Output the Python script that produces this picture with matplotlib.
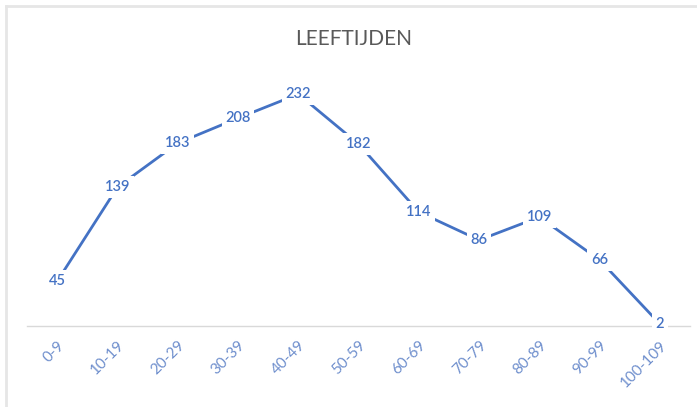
import matplotlib
matplotlib.use("Agg")
import matplotlib.pyplot as plt
from matplotlib.lines import Line2D

categories = ["0-9", "10-19", "20-29", "30-39", "40-49", "50-59",
              "60-69", "70-79", "80-89", "90-99", "100-109"]
values = [45, 139, 183, 208, 232, 182, 114, 86, 109, 66, 2]
title = "LEEFTIJDEN"

plt.rcParams['font.family'] = ['Lato', 'DejaVu Sans']

fig = plt.figure(figsize=(6.97, 4.07), dpi=100)
ax = fig.add_axes([0.039, 0.199, 0.951, 0.614])

x = list(range(len(categories)))
line_color = "#4472C4"
ax.plot(x, values, color=line_color, lw=2.0, solid_capstyle='round', zorder=2)
for xi, v in zip(x, values):
    ax.text(xi, v, str(v), ha='center', va='center', fontsize=10.5,
            color=line_color, fontweight='semibold', zorder=3,
            bbox=dict(boxstyle='square,pad=0.25', fc='white', ec='none'))

ax.set_xlim(-0.5, len(categories) - 0.5)
ax.set_ylim(0, 250)
ax.set_yticks([])
ax.set_xticks(x)
ax.set_xticklabels(categories, rotation=45, ha='right', va='top',
                   rotation_mode='anchor', fontsize=11, color="#6F8FCD")
ax.tick_params(axis='x', length=0, pad=9)
for s in ['top', 'right', 'left']:
    ax.spines[s].set_visible(False)
ax.spines['bottom'].set_color('#D9D9D9')
ax.spines['bottom'].set_linewidth(1.0)
ax.spines['bottom'].set_zorder(1)

fig.text(0.508, 0.905, title, ha='center', va='center', fontsize=15,
         color='#595959')

# outer frame (light gray, top and left)
fig.add_artist(Line2D([0.009, 1.0], [0.986, 0.986], color='#E6E6E6', lw=2,
                      transform=fig.transFigure))
fig.add_artist(Line2D([0.009, 0.009], [0.0, 0.986], color='#E6E6E6', lw=2,
                      transform=fig.transFigure))

fig.savefig("out.png", dpi=100, facecolor='white')
